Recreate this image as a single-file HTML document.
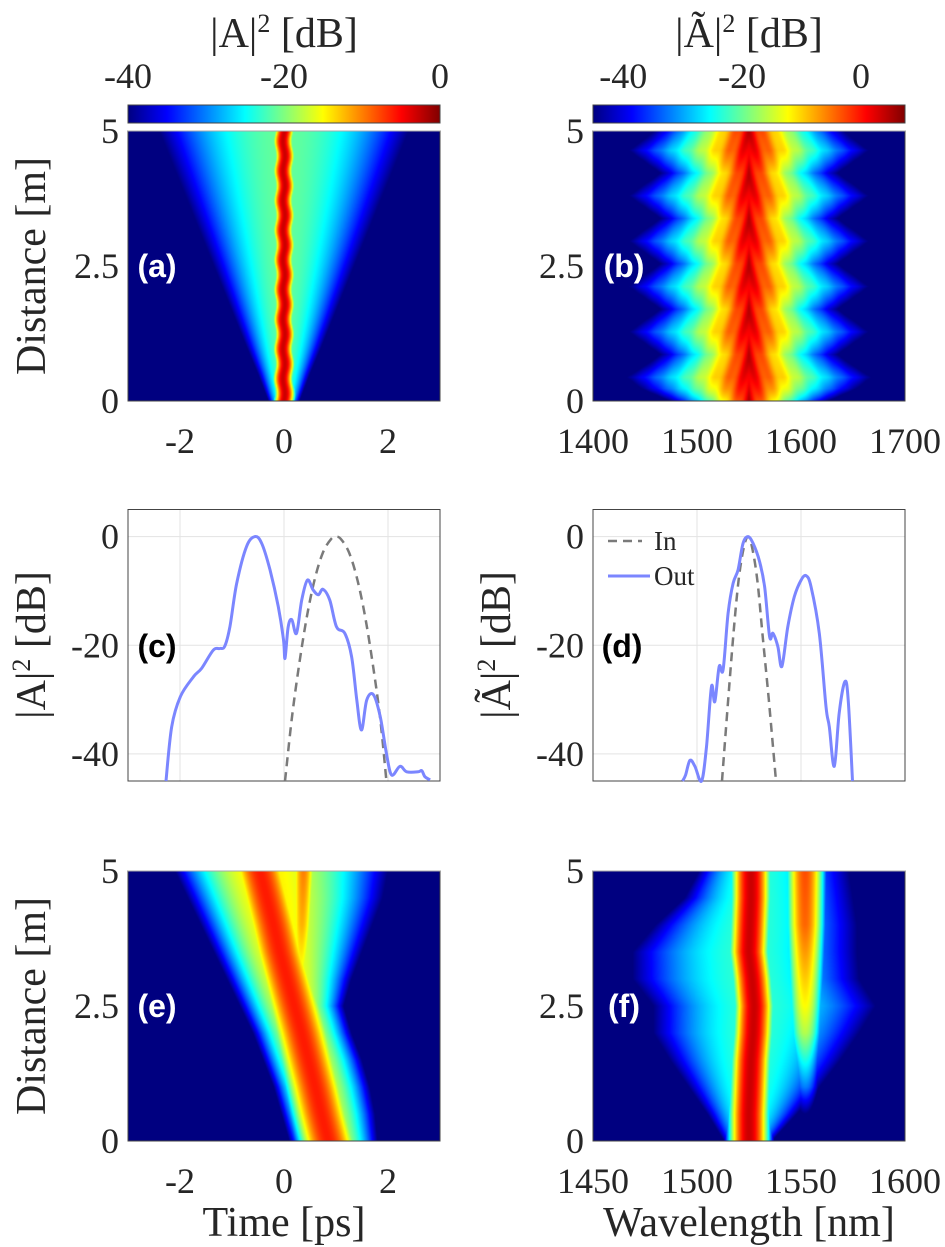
<!DOCTYPE html>
<html><head><meta charset="utf-8"><style>
body{margin:0;background:#fff;width:945px;height:1247px;position:relative;overflow:hidden}
canvas{position:absolute}
svg{position:absolute;left:0;top:0}
text{font-family:"Liberation Serif",serif;fill:#262626}
.tk{font-size:36px}
.tt{font-size:42px}
.lt{font-family:"Liberation Sans",sans-serif;font-weight:bold;font-size:32px}
</style></head><body>
<canvas id="ca" width="312" height="270" style="left:128px;top:131px"></canvas>
<canvas id="cb" width="312" height="270" style="left:593px;top:131px"></canvas>
<canvas id="ce" width="312" height="270" style="left:128px;top:871px"></canvas>
<canvas id="cf" width="312" height="270" style="left:593px;top:871px"></canvas>
<svg id="s" width="945" height="1247">
<defs><linearGradient id="jet" x1="0" x2="1" y1="0" y2="0">
<stop offset="0" stop-color="#000080"/><stop offset=".125" stop-color="#0000ff"/><stop offset=".375" stop-color="#00ffff"/><stop offset=".625" stop-color="#ffff00"/><stop offset=".875" stop-color="#ff0000"/><stop offset="1" stop-color="#800000"/></linearGradient></defs>
<g id="g"></g>
</svg>
<script>
// ---- data for line plots ----
const cOutT=[-2.27,-2.16,-1.99,-1.74,-1.58,-1.36,-1.23,-1.14,-1.04,-0.91,-0.72,-0.56,-0.43,-0.27,-0.11,-0.01,0.02,0.08,0.15,0.24,0.34,0.45,0.56,0.66,0.75,0.88,1.01,1.17,1.30,1.40,1.49,1.59,1.72,1.85,1.97,2.07,2.23,2.36,2.58,2.65,2.71,2.81];
const cOutDb=[-45,-35,-29.4,-25.8,-24.2,-20.9,-20.6,-20.2,-16.6,-8.6,-1.8,0,-1.2,-6.1,-12.9,-19,-22.4,-16.6,-15.3,-17.8,-11.7,-8.0,-9.8,-10.7,-9.7,-11.7,-16.6,-17.8,-22.1,-30.1,-35.6,-30.1,-29.1,-33.1,-39.9,-43.9,-42.3,-43.3,-43.3,-43.1,-44.2,-44.8];
const cInT=[0.02,0.15,0.3,0.45,0.6,0.75,0.9,1.0,1.1,1.25,1.4,1.55,1.7,1.85,1.97];
const cInDb=[-45,-33.5,-23,-14.2,-7.5,-2.9,-0.5,0,-0.5,-2.9,-7.5,-14.2,-23,-33.5,-45];
const dOutNm=[1486.2,1489,1493.2,1498,1504.4,1509.1,1513.9,1517.1,1521.3,1525.1,1529.9,1534.7,1539.5,1544.3,1549,1553.8,1560.2,1565,1569.8,1573,1577.7,1581.6,1587.3,1593.7,1600.1,1604.9,1609.6,1617.6,1624,1627.2,1632,1636.7,1642.2,1645.4,1649.5];
const dOutDb=[-45,-43.9,-41.2,-42.3,-45,-38.7,-27.6,-30.4,-23.9,-24.5,-14.1,-8.6,-6.1,-1.2,0,-1.2,-4.6,-9.2,-18.4,-17.8,-20.2,-23.9,-16.6,-11,-8,-7.2,-9.2,-17.8,-31.3,-35,-42.3,-32.5,-26.7,-30.1,-45];
const dInNm=[1524,1530,1535,1540,1545,1549,1553,1558,1563,1569,1576];
const dInDb=[-45,-30,-18,-8,-2,0,-2,-8,-18,-30,-45];
// ---- heatmap parameter arrays (sampled along distance z = 0..5 m) ----
const zS=[0,0.5,1,1.5,2,2.5,3,3.5,4,4.5,5];
const aPedW=[0.3,0.5,0.72,0.93,1.14,1.35,1.56,1.77,1.98,2.19,2.4];
const bZ=[0,0.23,0.44,0.65,0.86,1.07,1.28,1.49,1.70,1.91,2.12,2.33,2.54,2.75,2.96,3.17,3.38,3.59,3.80,4.01,4.22,4.43,4.64,4.85,5];
const bW=[70,95,108,92,78,92,106,92,78,92,106,92,78,92,106,92,78,92,106,92,78,92,106,92,84];
const eSol=[0.85,0.72,0.6,0.47,0.34,0.2,0.06,-0.08,-0.2,-0.33,-0.46];
const eLeft=[0.1,-0.05,-0.2,-0.4,-0.6,-0.85,-1.1,-1.35,-1.6,-1.85,-2.1];
const eRight=[1.8,1.75,1.65,1.5,1.3,1.15,1.3,1.5,1.7,1.9,2.0];
const eSideDb=[-40,-40,-40,-40,-30,-20,-16,-14,-12,-11,-10];
const fCen=[1525,1525,1525.5,1526,1527,1527.5,1526.5,1525,1525.5,1526,1526];
const fL=[1513,1505,1496,1487,1479,1479,1469,1469,1480,1494,1501];
const fR=[1536,1548,1559,1569,1578,1586,1578,1577,1577,1575,1573];
const fBandDb=[-45,-40,-30,-24,-18,-15,-13,-11,-9,-8.5,-8];

function interp(xs,ys,x){if(x<=xs[0])return ys[0];for(let i=1;i<xs.length;i++){if(x<=xs[i]){const f=(x-xs[i-1])/(xs[i]-xs[i-1]);return ys[i-1]+f*(ys[i]-ys[i-1]);}}return ys[ys.length-1];}
function jet(v){v=Math.max(0,Math.min(1,v));const c=x=>Math.round(255*Math.max(0,Math.min(1,x)));return [c(1.5-Math.abs(4*v-3)),c(1.5-Math.abs(4*v-2)),c(1.5-Math.abs(4*v-1))];}
function paint(id,x0,x1,lo,hi,fn){const cv=document.getElementById(id),ctx=cv.getContext('2d'),W=cv.width,H=cv.height,im=ctx.createImageData(W,H);
for(let j=0;j<H;j++){const z=5*(1-(j+0.5)/H);for(let i=0;i<W;i++){const x=x0+(x1-x0)*(i+0.5)/W;const d=fn(x,z);const c=jet((d-lo)/(hi-lo));const k=4*(j*W+i);im.data[k]=c[0];im.data[k+1]=c[1];im.data[k+2]=c[2];im.data[k+3]=255;}}ctx.putImageData(im,0,0);}
paint('ca',-3,3,-40,0,(t,z)=>{const w=interp(zS,aPedW,z);const wig=0.02*Math.sin(z*2*Math.PI/0.55);const core=-3-6*Math.pow((t-wig)/0.1,2);const ped=-21-19*Math.pow(t/w,2);return Math.max(core,ped);});
paint('cb',1400,1700,-45,7.4,(l,z)=>{const W=interp(bZ,bW,z);const x=Math.abs(l-1550)/W;let d=3-44*x;d+=1.8*Math.cos(2*Math.PI*(Math.abs(l-1550)/14+z/0.84))*Math.exp(-x*2.5);return d;});
paint('ce',-3,3,-40,0,(t,z)=>{const s=interp(zS,eSol,z),L=interp(zS,eLeft,z),R=interp(zS,eRight,z);const core=-6-8*Math.pow((t-s)/0.35,2);let wing;if(t<s)wing=-14-26*Math.pow((s-t)/(s-L),2);else wing=-14-26*Math.pow((t-s)/(R-s),2);const sd=interp(zS,eSideDb,z);const c2=0.3+0.03*(z-2.5);const sec=sd-6*Math.pow((t-c2)/0.15,2);return Math.max(core,wing,sec);});
paint('cf',1450,1600,-40,0,(l,z)=>{const c=interp(zS,fCen,z);const core=-3-9*Math.pow((l-c)/6,2);const e=l<c?interp(zS,fL,z):interp(zS,fR,z);const wing=-23-17*Math.pow((l-c)/(e-c),2);const bd=interp(zS,fBandDb,z);const b2=bd-6*Math.pow((l-1552)/5,2);return Math.max(core,wing,b2);});

const NS='http://www.w3.org/2000/svg',G=document.getElementById('g');
function el(tag,attrs,txt){const e=document.createElementNS(NS,tag);for(const k in attrs)e.setAttribute(k,attrs[k]);if(txt!==undefined)e.textContent=txt;G.appendChild(e);return e;}
function tx(x,y,s,anchor,cls,name,extra){const e=el('text',Object.assign({x:x,y:y,'text-anchor':anchor,class:cls},extra||{}),s);return e;}
function frame(x,y,w,h,name){const r=el('rect',{x:x,y:y,width:w,height:h,fill:'none',stroke:'#444','stroke-width':1});}

const sxA=t=>128+(t+3)/6*312, sxB=l=>593+(l-1400)/300*312, sxF=l=>593+(l-1450)/150*312;
const syC=d=>509.5+(5-d)/50*271.5;

[[128,'a'],[593,'b']].forEach(([x,k])=>{const r=el('rect',{x:x,y:105,width:312,height:18,fill:'url(#jet)',stroke:'#444','stroke-width':1});});
const sup='<tspan dy="-15" font-size="26">2</tspan><tspan dy="15"> [dB]</tspan>';
tx(284,47,'','middle','tt','colorbar-title-a').innerHTML='|A|'+sup;
tx(749,47,'','middle','tt','colorbar-title-b').innerHTML='|Ã|'+sup;
const cbTicksA=['-40','-20','0'],cbValsA=[-40,-20,0];
cbValsA.forEach((v,i)=>tx(128+(v+40)/40*312,88,cbTicksA[i],'middle','tk','colorbar-a-tick'));
const cbTicksB=['-40','-20','0'],cbValsB=[-40,-20,0];
cbValsB.forEach((v,i)=>tx(593+(v+45.1)/52.5*312,88,cbTicksB[i],'middle','tk','colorbar-b-tick'));

function heatAxes(x0,yTop,sx,xt,xl,name){
  frame(x0,yTop,312,270,name+'-frame');
  el('line',{x1:x0,x2:x0+312,y1:yTop-2,y2:yTop-2,stroke:'#fff','stroke-width':3});
  el('line',{x1:x0,x2:x0+312,y1:yTop,y2:yTop,stroke:'#aaa','stroke-width':1});
  [5,2.5,0].forEach((z,i)=>{const y=yTop+270-z/5*270;tx(x0-9,y+12,['5','2.5','0'][i],'end','tk',name+'-ytick');});
  xt.forEach((v,i)=>tx(sx(v),yTop+322,xl[i],'middle','tk',name+'-xtick'));
}
heatAxes(128,131,sxA,[-2,0,2],['-2','0','2'],'panel-a');
heatAxes(593,131,sxB,[1400,1500,1600,1700],['1400','1500','1600','1700'],'panel-b');
heatAxes(128,871,sxA,[-2,0,2],['-2','0','2'],'panel-e');
heatAxes(593,871,sxF,[1450,1500,1550,1600],['1450','1500','1550','1600'],'panel-f');
tx(157,277,'(a)','middle','lt','label-a',{style:'fill:#fff'});
tx(624,277,'(b)','middle','lt','label-b',{style:'fill:#fff'});
tx(157,1017,'(e)','middle','lt','label-e',{style:'fill:#fff'});
tx(624,1017,'(f)','middle','lt','label-f',{style:'fill:#fff'});
tx(0,0,'Distance [m]','middle','tt','y-axis-title-top',{transform:'translate(45,266) rotate(-90)'});
tx(0,0,'Distance [m]','middle','tt','y-axis-title-bottom',{transform:'translate(45,1006) rotate(-90)'});
tx(284,1236,'Time [ps]','middle','tt','x-axis-title-time');
tx(749,1236,'Wavelength [nm]','middle','tt','x-axis-title-wavelength');

function linePanel(x0,sx,gx,name){
  gx.forEach(v=>el('line',{x1:sx(v),x2:sx(v),y1:509.5,y2:781,stroke:'#e3e3e3','stroke-width':1}));
  [0,-20,-40].forEach(d=>el('line',{x1:x0,x2:x0+312,y1:syC(d),y2:syC(d),stroke:'#e3e3e3','stroke-width':1}));
  frame(x0,509.5,312,271.5,name+'-frame');
  [0,-20,-40].forEach((d,i)=>tx(x0-9,syC(d)+12,['0','-20','-40'][i],'end','tk',name+'-ytick'));
}
linePanel(128,sxA,[-2,0,2],'panel-c');
linePanel(593,sxB,[1500,1600],'panel-d');
function poly(xs,ys,sx,stroke,w,dash,name){
  const P=xs.map((x,i)=>[sx(x),syC(ys[i])]);let d='M'+P[0][0].toFixed(1)+','+P[0][1].toFixed(1);
  for(let i=0;i<P.length-1;i++){const p0=P[Math.max(0,i-1)],p1=P[i],p2=P[i+1],p3=P[Math.min(P.length-1,i+2)];
    const c1=[p1[0]+(p2[0]-p0[0])/6,p1[1]+(p2[1]-p0[1])/6],c2=[p2[0]-(p3[0]-p1[0])/6,p2[1]-(p3[1]-p1[1])/6];
    d+=' C'+c1.map(v=>v.toFixed(1)).join(',')+' '+c2.map(v=>v.toFixed(1)).join(',')+' '+p2.map(v=>v.toFixed(1)).join(',');}
  const p=el('path',{d:d,fill:'none',stroke:stroke,'stroke-width':w,'stroke-linejoin':'round','stroke-dasharray':dash||'none'});}
poly(cInT,cInDb,sxA,'#7a7a7a',2.5,'9,6','series-c-in');
poly(cOutT,cOutDb,sxA,'#7b86ff',3,null,'series-c-out');
poly(dInNm,dInDb,sxB,'#7a7a7a',2.5,'9,6','series-d-in');
poly(dOutNm,dOutDb,sxB,'#7b86ff',3,null,'series-d-out');
tx(157,657,'(c)','middle','lt','label-c',{style:'fill:#000'});
tx(622,657,'(d)','middle','lt','label-d',{style:'fill:#000'});
el('line',{x1:608,x2:642,y1:541,y2:541,stroke:'#7a7a7a','stroke-width':2.5,'stroke-dasharray':'9,6'});
tx(654,550,'In','start','tk','legend-entry-in',{style:'font-size:27px'});
el('line',{x1:608,x2:650,y1:576,y2:576,stroke:'#7b86ff','stroke-width':3});
tx(654,585,'Out','start','tk','legend-entry-out',{style:'font-size:27px'});
tx(0,0,'','middle','tt','y-axis-title-c',{transform:'translate(45,645) rotate(-90)'}).innerHTML='|A|'+sup;
tx(0,0,'','middle','tt','y-axis-title-d',{transform:'translate(510,645) rotate(-90)'}).innerHTML='|Ã|'+sup;
</script>
</body></html>
